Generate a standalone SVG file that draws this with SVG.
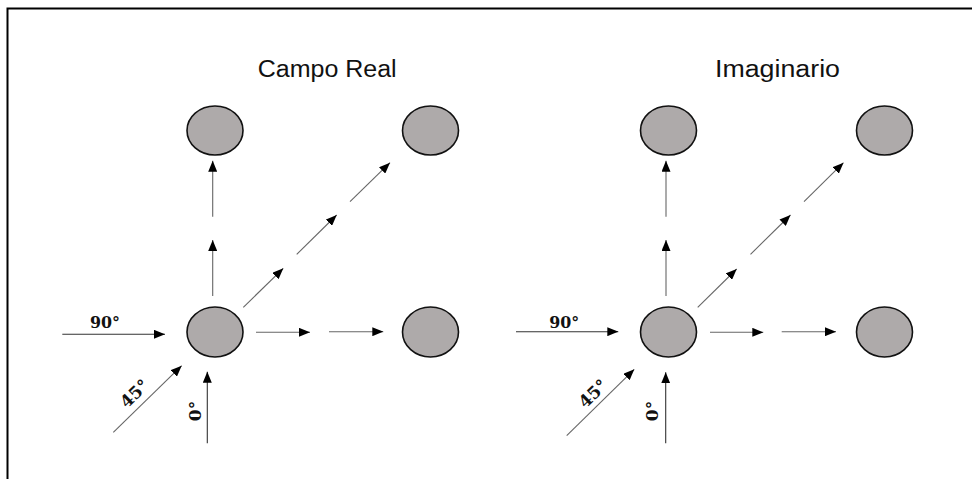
<svg xmlns="http://www.w3.org/2000/svg" width="972" height="479" viewBox="0 0 972 479">
<style>
.node ellipse{fill:#aeaaaa;stroke:#111;stroke-width:1.6}
.c line{stroke:#666;stroke-width:1.1;marker-end:url(#ah)}
.title{font-family:"Liberation Sans",Arial,sans-serif;font-size:23.5px;fill:#111}
.lbl{font-family:"DejaVu Serif",serif;font-weight:bold;font-size:17px;fill:#111}
</style>
<defs>
<marker id="ah" viewBox="0 0 11 9" refX="11" refY="4.5" markerWidth="11" markerHeight="9" markerUnits="userSpaceOnUse" orient="auto">
<path d="M0,0 L11,4.5 L0,9 Z" fill="#000"/>
</marker>
</defs>
<rect width="972" height="479" fill="#fff"/>
<path d="M7.5,479 V8.5 H972" fill="none" stroke="#000" stroke-width="2"/>
<text class="title" x="257.7" y="76.7" textLength="139" lengthAdjust="spacingAndGlyphs">Campo Real</text>
<text class="title" x="715" y="76.7" textLength="125" lengthAdjust="spacingAndGlyphs">Imaginario</text>

<g id="L-top-left" class="node"><ellipse cx="215" cy="130.5" rx="28" ry="24.5"/></g>
<g id="L-top-right" class="node"><ellipse cx="430.5" cy="130.5" rx="28" ry="24.5"/></g>
<g id="L-center" class="node"><ellipse cx="215" cy="332" rx="28" ry="25"/></g>
<g id="L-bottom-right" class="node"><ellipse cx="430.5" cy="332" rx="28" ry="25"/></g>

<g id="R-top-left" class="node"><ellipse cx="668.5" cy="130.5" rx="28" ry="24.5"/></g>
<g id="R-top-right" class="node"><ellipse cx="884.5" cy="130.5" rx="28" ry="24.5"/></g>
<g id="R-center" class="node"><ellipse cx="668.5" cy="332" rx="28" ry="25"/></g>
<g id="R-bottom-right" class="node"><ellipse cx="884.5" cy="332" rx="28" ry="25"/></g>

<g id="connectors" class="c">
<line x1="212.7" y1="296" x2="212.7" y2="240"/>
<line x1="212.7" y1="216.7" x2="212.7" y2="160.7"/>
<line x1="243.3" y1="307.3" x2="283.3" y2="268.3"/>
<line x1="296.7" y1="254.3" x2="336.7" y2="215"/>
<line x1="350" y1="201.7" x2="390" y2="162.7"/>
<line x1="256" y1="332.3" x2="310" y2="332.3"/>
<line x1="329" y1="331.7" x2="383.3" y2="331.7"/>
<line x1="62.3" y1="334.3" x2="165" y2="334.3" style="stroke:#333"/>
<line x1="113.3" y1="432.3" x2="181.7" y2="365.7"/>
<line x1="207.3" y1="443.3" x2="207.3" y2="371.7" style="stroke:#333"/>

<line x1="666" y1="296" x2="666" y2="240"/>
<line x1="666" y1="216.7" x2="666" y2="160.7"/>
<line x1="697.7" y1="307.3" x2="736.7" y2="269"/>
<line x1="750.5" y1="254.3" x2="790.5" y2="215"/>
<line x1="804" y1="201.7" x2="843.5" y2="162.7"/>
<line x1="710" y1="332.3" x2="763.3" y2="332.3"/>
<line x1="781.7" y1="331.7" x2="836" y2="331.7"/>
<line x1="516" y1="331.7" x2="618.3" y2="331.7" style="stroke:#333"/>
<line x1="566.7" y1="435.7" x2="634.3" y2="369.3"/>
<line x1="665.7" y1="443.3" x2="665.7" y2="372.3" style="stroke:#333"/>
</g>

<text class="lbl" x="90" y="327.7" textLength="30" lengthAdjust="spacingAndGlyphs">90°</text>
<text class="lbl" x="549.3" y="327.7" textLength="30" lengthAdjust="spacingAndGlyphs">90°</text>
<text class="lbl" transform="translate(134.5,393.5) rotate(-44)" text-anchor="middle" y="6">45°</text>
<text class="lbl" transform="translate(593,393.5) rotate(-44)" text-anchor="middle" y="6">45°</text>
<text class="lbl" transform="translate(195,411) rotate(-90)" text-anchor="middle" y="6">0°</text>
<text class="lbl" transform="translate(651.7,411) rotate(-90)" text-anchor="middle" y="6">0°</text>
</svg>
